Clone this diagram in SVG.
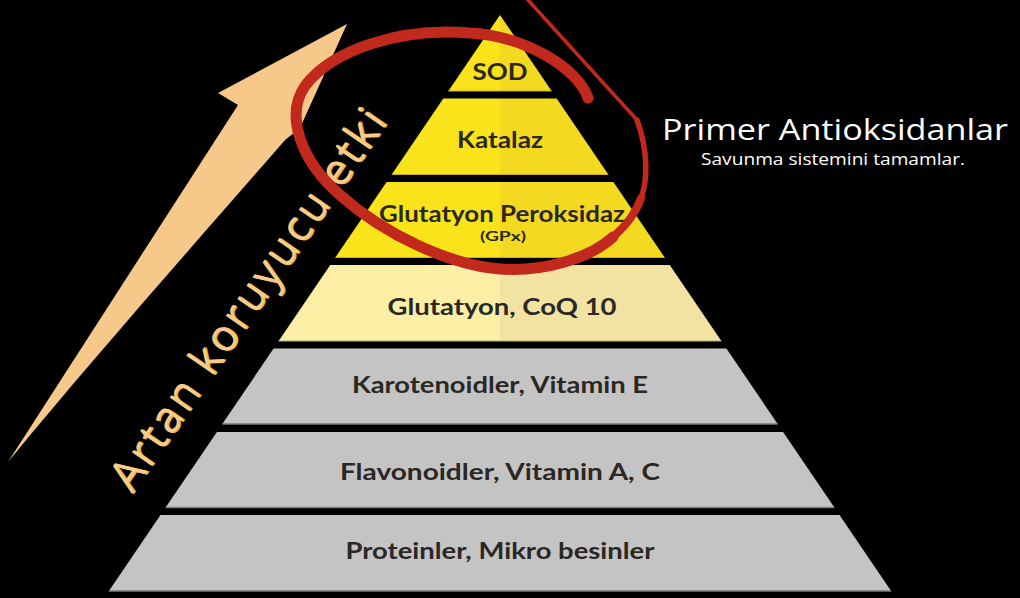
<svg xmlns="http://www.w3.org/2000/svg" width="1020" height="598" viewBox="0 0 1020 598">
<defs>
<linearGradient id="gYel" x1="0" y1="0" x2="1" y2="0">
<stop offset="0.5" stop-color="#F9E41B"/><stop offset="0.5" stop-color="#F3DA20"/>
</linearGradient>
<linearGradient id="gLight" x1="0" y1="0" x2="1" y2="0">
<stop offset="0.5" stop-color="#FBEFA6"/><stop offset="0.5" stop-color="#F2E3A2"/>
</linearGradient>
<style>
.yel{fill:url(#gYel)}
.light{fill:url(#gLight)}
.gray{fill:#C4C4C4}
.edgeY{stroke:#C9B01A;stroke-width:1.2}
.edgeL{stroke:#BFB07A;stroke-width:1.2}
.edgeG{stroke:#7A7A7A;stroke-width:1.4}
.lbl{font-family:Lato,"Open Sans","Liberation Sans",sans-serif;font-weight:700;font-size:23px;fill:#2B2725;text-anchor:middle}
.red{fill:none;stroke:#C0291B;stroke-linecap:round;stroke-linejoin:round}
.arrowTxt{font-family:"Open Sans","Noto Sans","Liberation Sans",sans-serif;font-size:44px;font-weight:400}
.side{font-family:"Open Sans","Noto Sans","Liberation Sans",sans-serif;fill:#FFFFFF;text-anchor:middle}
</style>
</defs>
<rect x="0" y="0" width="1020" height="598" fill="#000000"/>

<g id="layer-sod">
<polygon class="yel" points="500,15 551.6,91 448.4,91"/>
<line class="edgeY" x1="448.4" y1="91" x2="551.6" y2="91"/>
<text class="lbl" x="500" y="80" textLength="55" lengthAdjust="spacingAndGlyphs">SOD</text>
</g>
<g id="layer-katalaz">
<polygon class="yel" points="443.3,98.5 556.7,98.5 608.3,174.5 391.7,174.5"/>
<line class="edgeY" x1="391.7" y1="174.5" x2="608.3" y2="174.5"/>
<text class="lbl" x="500" y="148" textLength="86" lengthAdjust="spacingAndGlyphs">Katalaz</text>
</g>
<g id="layer-gpx">
<polygon class="yel" points="386.6,182 613.4,182 664.7,257.5 335.3,257.5"/>
<line class="edgeY" x1="335.3" y1="257.5" x2="664.7" y2="257.5"/>
<text class="lbl" x="502" y="222" textLength="246" lengthAdjust="spacingAndGlyphs">Glutatyon Peroksidaz</text>
<text class="lbl" x="503" y="241" style="font-size:14px" textLength="46" lengthAdjust="spacingAndGlyphs">(GPx)</text>
</g>
<g id="layer-glutatyon">
<polygon class="light" points="330.25,265 669.75,265 721.35,341 278.65,341"/>
<line class="edgeL" x1="278.65" y1="341" x2="721.35" y2="341"/>
<text class="lbl" x="502" y="315" textLength="229" lengthAdjust="spacingAndGlyphs">Glutatyon, CoQ 10</text>
</g>
<g id="layer-karotenoidler">
<polygon class="gray" points="273.6,348.5 726.4,348.5 777.7,424 222.3,424"/>
<line class="edgeG" x1="222.3" y1="424" x2="777.7" y2="424"/>
<text class="lbl" x="500" y="393" textLength="296" lengthAdjust="spacingAndGlyphs">Karotenoidler, Vitamin E</text>
</g>
<g id="layer-flavonoidler">
<polygon class="gray" points="216.9,432 783.1,432 834.4,507.5 165.6,507.5"/>
<line class="edgeG" x1="165.6" y1="507.5" x2="834.4" y2="507.5"/>
<text class="lbl" x="500" y="480" textLength="320" lengthAdjust="spacingAndGlyphs">Flavonoidler, Vitamin A, C</text>
</g>
<g id="layer-proteinler">
<polygon class="gray" points="160.5,515 839.5,515 891.1,591 108.9,591"/>
<line class="edgeG" x1="108.9" y1="591" x2="891.1" y2="591"/>
<text class="lbl" x="500" y="559" textLength="309" lengthAdjust="spacingAndGlyphs">Proteinler, Mikro besinler</text>
</g>

<g id="arrow">
<path d="M 347 24 L 218 93 L 238 105 L 8 462 C 100 350, 200 238, 285 140 L 300 128 Z" fill="#F6C98A"/>
<g transform="translate(132,494) rotate(-55.5)">
<text class="arrowTxt" x="0.6" y="1.6" fill="#EFBB2C" textLength="452" lengthAdjust="spacing">Artan koruyucu etki</text>
<text class="arrowTxt" x="0" y="0" fill="#F7CB8C" textLength="452" lengthAdjust="spacing">Artan koruyucu etki</text>
</g>
</g>

<g id="highlight">
<path class="red" stroke-width="11" d="M 588 98 C 578 68, 525 36, 470 33 C 400 27, 332 50, 305 86 C 285 115, 300 160, 340 195 C 385 235, 450 265, 500 269 C 545 272, 590 258, 613 237"/>
<path class="red" stroke-width="8" d="M 613 237 C 628 224, 636 213, 641 198"/>
<path class="red" stroke-width="5.5" d="M 641 198 C 648 180, 648 150, 637 120"/>
<path class="red" stroke-width="3.5" d="M 637 120 L 528 0"/>
</g>

<g id="primer-label">
<text class="side" x="835" y="140" style="font-size:30px" textLength="346" lengthAdjust="spacingAndGlyphs">Primer Antioksidanlar</text>
<text class="side" x="833" y="165" style="font-size:17px" textLength="264" lengthAdjust="spacingAndGlyphs">Savunma sistemini tamamlar.</text>
</g>
</svg>
